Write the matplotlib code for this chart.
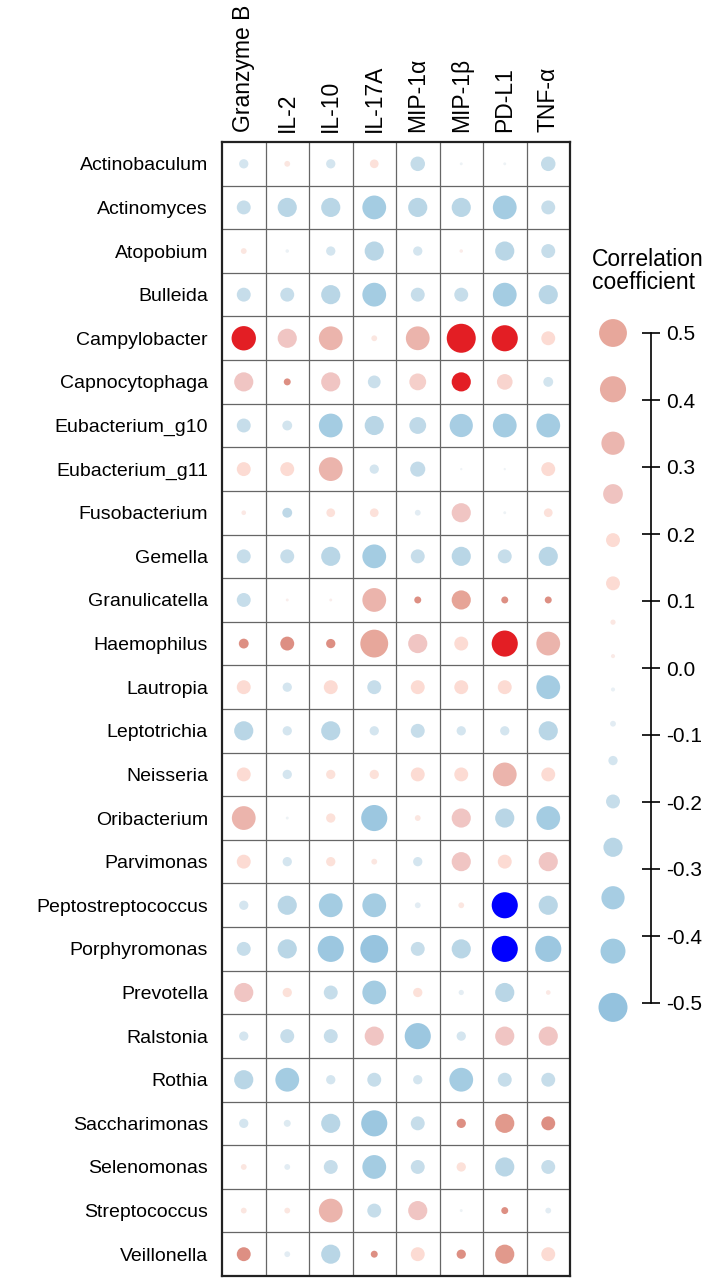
import numpy as np
import matplotlib
matplotlib.use("Agg")
import matplotlib.pyplot as plt
from matplotlib.colors import LinearSegmentedColormap

plt.rcParams['font.family'] = ['Liberation Sans', 'DejaVu Sans']

cytokines = ["Granzyme B", "IL-2", "IL-10", "IL-17A", "MIP-1α", "MIP-1β", "PD-L1", "TNF-α"]
genera = ["Actinobaculum", "Actinomyces", "Atopobium", "Bulleida", "Campylobacter",
          "Capnocytophaga", "Eubacterium_g10", "Eubacterium_g11", "Fusobacterium",
          "Gemella", "Granulicatella", "Haemophilus", "Lautropia", "Leptotrichia",
          "Neisseria", "Oribacterium", "Parvimonas", "Peptostreptococcus",
          "Porphyromonas", "Prevotella", "Ralstonia", "Rothia", "Saccharimonas",
          "Selenomonas", "Streptococcus", "Veillonella"]

# correlation coefficients (row = genus, col = cytokine)
corr = np.array([
    [-0.16,  0.10, -0.16,  0.15, -0.25, -0.05, -0.05, -0.25],
    [-0.24, -0.33, -0.33, -0.41, -0.33, -0.33, -0.41, -0.24],
    [ 0.10, -0.06, -0.16, -0.33, -0.16,  0.06, -0.33, -0.24],
    [-0.24, -0.24, -0.33, -0.41, -0.24, -0.24, -0.41, -0.33],
    [ 0.42,  0.33,  0.41,  0.10,  0.41,  0.50,  0.45,  0.24],
    [ 0.33,  0.12,  0.33, -0.22,  0.29,  0.33,  0.27, -0.17],
    [-0.24, -0.17, -0.41, -0.33, -0.29, -0.40, -0.41, -0.41],
    [ 0.24,  0.24,  0.41, -0.16, -0.26, -0.04, -0.04,  0.24],
    [ 0.08, -0.17,  0.15,  0.15, -0.10,  0.33, -0.05,  0.15],
    [-0.24, -0.24, -0.33, -0.41, -0.24, -0.33, -0.24, -0.33],
    [-0.24,  0.05,  0.05,  0.41,  0.12,  0.33,  0.12,  0.12],
    [ 0.17,  0.24,  0.16,  0.48,  0.33,  0.24,  0.45,  0.41],
    [ 0.24, -0.16,  0.24, -0.24,  0.24,  0.24,  0.24, -0.41],
    [-0.33, -0.16, -0.33, -0.16, -0.24, -0.16, -0.16, -0.33],
    [ 0.24, -0.16,  0.16,  0.16,  0.24,  0.24,  0.41,  0.24],
    [ 0.41, -0.05,  0.16, -0.45,  0.10,  0.33, -0.33, -0.41],
    [ 0.24, -0.16,  0.16,  0.10, -0.16,  0.33,  0.24,  0.33],
    [-0.16, -0.33, -0.41, -0.41, -0.10,  0.10, -0.45, -0.33],
    [-0.24, -0.33, -0.45, -0.48, -0.24, -0.33, -0.45, -0.45],
    [ 0.33,  0.16, -0.24, -0.41,  0.16, -0.09, -0.33,  0.08],
    [-0.16, -0.24, -0.24,  0.33, -0.45, -0.16,  0.33,  0.33],
    [-0.33, -0.41, -0.16, -0.24, -0.16, -0.41, -0.24, -0.24],
    [-0.16, -0.12, -0.33, -0.45, -0.24,  0.16,  0.33,  0.24],
    [ 0.10, -0.10, -0.24, -0.41, -0.24,  0.16, -0.33, -0.24],
    [ 0.10,  0.10,  0.41, -0.24,  0.33, -0.05,  0.12, -0.10],
    [ 0.24, -0.10, -0.33,  0.12,  0.24,  0.16,  0.33,  0.24],
])

# cells drawn darker than their size suggests (colour value)
shade = {
    ("Capnocytophaga", "IL-2"): 0.6,
    ("Fusobacterium", "IL-2"): -0.3,
    ("Granulicatella", "MIP-1α"): 0.6,
    ("Granulicatella", "MIP-1β"): 0.5,
    ("Granulicatella", "PD-L1"): 0.6,
    ("Granulicatella", "TNF-α"): 0.6,
    ("Haemophilus", "Granzyme B"): 0.6,
    ("Haemophilus", "IL-2"): 0.6,
    ("Haemophilus", "IL-10"): 0.6,
    ("Saccharimonas", "MIP-1β"): 0.6,
    ("Saccharimonas", "PD-L1"): 0.55,
    ("Saccharimonas", "TNF-α"): 0.6,
    ("Streptococcus", "PD-L1"): 0.6,
    ("Veillonella", "Granzyme B"): 0.6,
    ("Veillonella", "IL-17A"): 0.6,
    ("Veillonella", "MIP-1β"): 0.6,
    ("Veillonella", "PD-L1"): 0.55,
}

# significant cells
signif = [("Campylobacter", "Granzyme B"), ("Campylobacter", "MIP-1β"),
          ("Campylobacter", "PD-L1"), ("Capnocytophaga", "MIP-1β"),
          ("Haemophilus", "PD-L1"), ("Peptostreptococcus", "PD-L1"),
          ("Porphyromonas", "PD-L1")]

legend_r = [0.48, 0.45, 0.40, 0.34, 0.24, 0.24, 0.09, 0.07,
            -0.07, -0.10, -0.16, -0.24, -0.33, -0.40, -0.43, -0.50]
legend_ticks = [0.5, 0.4, 0.3, 0.2, 0.1, 0.0, -0.1, -0.2, -0.3, -0.4, -0.5]

anchors = [(-0.6, "#7FB2D6"), (-0.5, "#94C2DE"), (-0.42, "#A2CBE2"), (-0.33, "#B9D6E6"),
           (-0.24, "#C6DDEA"), (-0.16, "#D4E5EF"), (-0.06, "#EBF1F5"), (0.0, "#F7F7F7"),
           (0.06, "#FAEBE8"), (0.12, "#FCE3DC"), (0.24, "#FCDCD3"), (0.33, "#F0C5C3"),
           (0.42, "#EAB2AA"), (0.5, "#E6A497"), (0.6, "#DD8F83")]
cmap = LinearSegmentedColormap.from_list(
    "corr", [((v + 0.6) / 1.2, c) for v, c in anchors])

def col_of(v):
    return cmap((v + 0.6) / 1.2)

def size_of(v):
    # diameter ~58 px for |r| = 0.5, in points
    return (58 * abs(v) * 0.72) ** 2

W, H = 709, 1279
fig = plt.figure(figsize=(W / 100, H / 100), dpi=100)

gl, gr, gt, gb = 222, 570, 142, 1276
ax = fig.add_axes([gl / W, 1 - gb / H, (gr - gl) / W, (gb - gt) / H])
nr, nc = len(genera), len(cytokines)
ax.set_xlim(0, nc)
ax.set_ylim(nr, 0)

ax.vlines(np.arange(1, nc), 0, nr, color="#666666", lw=0.9, zorder=1)
ax.hlines(np.arange(1, nr), 0, nc, color="#666666", lw=0.9, zorder=1)

xs, ys, ss, cs = [], [], [], []
for i, g in enumerate(genera):
    for j, c in enumerate(cytokines):
        v = corr[i, j]
        xs.append(j + 0.5)
        ys.append(i + 0.5)
        ss.append(size_of(v))
        if (g, c) in signif:
            cs.append("#E31E24" if v > 0 else "#0000FF")
        else:
            cs.append(col_of(shade.get((g, c), v)))
ax.scatter(xs, ys, s=ss, c=cs, edgecolors="none", zorder=2)

for sp in ax.spines.values():
    sp.set_linewidth(1.6)
    sp.set_color("#222222")

ax.set_yticks(np.arange(nr) + 0.5)
ax.set_yticklabels(genera, fontsize=14)
ax.xaxis.tick_top()
ax.set_xticks(np.arange(nc) + 0.5)
ax.set_xticklabels(cytokines, rotation=90, fontsize=16.5)
ax.tick_params(length=0)
ax.tick_params(axis="y", pad=10)
ax.tick_params(axis="x", pad=7)

# legend circles, stacked with constant gap
lax = fig.add_axes([580 / W, 0, 70 / W, 1])
lax.set_xlim(580, 650)
lax.set_ylim(H, 0)
lax.axis("off")
diam = [58 * abs(v) for v in legend_r]
ly = [333.0]
for k in range(1, len(diam)):
    ly.append(ly[-1] + (diam[k - 1] + diam[k]) / 2 + 29.3)
lax.scatter([613] * len(legend_r), ly, s=[size_of(v) for v in legend_r],
            c=[col_of(v) for v in legend_r], edgecolors="none", clip_on=False)

# legend scale
cax = fig.add_axes([651 / W, 1 - 1003 / H, 0.0001, (1003 - 333) / H])
cax.set_ylim(-0.5, 0.5)
cax.set_xticks([])
for k in ["top", "bottom", "right"]:
    cax.spines[k].set_visible(False)
cax.spines["left"].set_linewidth(1.2)
cax.set_yticks(legend_ticks)
cax.set_yticklabels([f"{t:.1f}" for t in legend_ticks])
cax.tick_params(axis="y", direction="inout", length=13, width=1.2,
                left=True, right=False, labelleft=False, labelright=True,
                labelsize=15, pad=4)

fig.text(592 / W, 1 - 248 / H, "Correlation\ncoefficient", ha="left", va="top",
         fontsize=16.5, linespacing=1.0)

fig.savefig("out.png", dpi=100)
